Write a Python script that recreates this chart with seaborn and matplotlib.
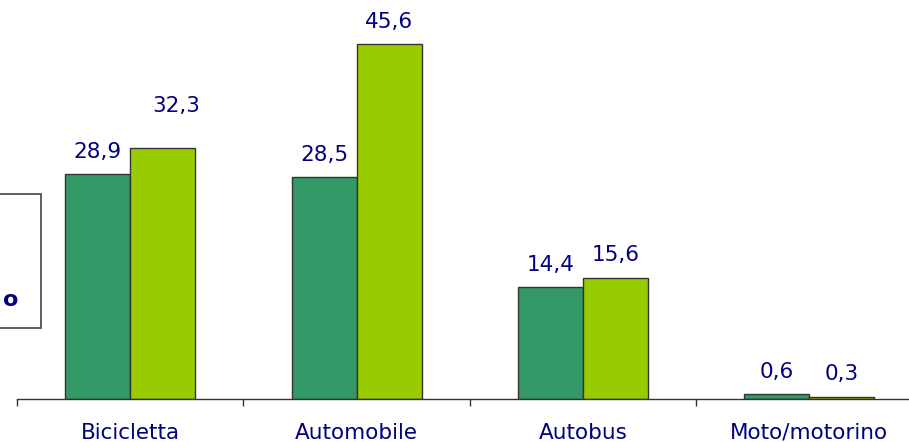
import matplotlib
matplotlib.use("Agg")
import matplotlib.pyplot as plt
import pandas as pd
import seaborn as sns
from matplotlib.patches import Rectangle

categories = ["Bicicletta", "Automobile", "Autobus", "Moto/motorino"]
series_names = ["Serie 1", "Serie 2"]
values_first = [28.9, 28.5, 14.4, 0.6]
values_second = [32.3, 45.6, 15.6, 0.3]

DARK_GREEN = "#339966"
LIME = "#99CC00"
NAVY = "#000080"

df = pd.DataFrame({
    "categoria": categories * 2,
    "serie": [series_names[0]] * len(categories) + [series_names[1]] * len(categories),
    "valore": values_first + values_second,
})

sns.set_style("white")
plt.rcParams["font.family"] = ["DejaVu Sans"]

fig = plt.figure(figsize=(9.09, 4.42), dpi=100)
ax = fig.add_axes([17 / 909, 43 / 442, 1 - 17 / 909, 399 / 442])

sns.barplot(
    data=df, x="categoria", y="valore", hue="serie",
    palette=[DARK_GREEN, LIME], saturation=1, width=0.574, gap=0,
    edgecolor="#333333", linewidth=1, legend=False, ax=ax,
)

ax.set_xlim(-0.5, 3.44)
ax.set_ylim(0, 51.25)
ax.set_xlabel("")
ax.set_ylabel("")
ax.set_yticks([])
for side in ["left", "right", "top"]:
    ax.spines[side].set_visible(False)
ax.spines["bottom"].set_color("#333333")
ax.spines["bottom"].set_linewidth(1)

ax.set_xticks(range(len(categories)))
ax.set_xticklabels(categories, color=NAVY, fontsize=15.5)
ax.tick_params(axis="x", which="major", bottom=True, length=0, pad=17)
ax.set_xticks([i - 0.5 for i in range(len(categories))], minor=True)
ax.tick_params(axis="x", which="minor", bottom=True, length=5, width=1,
               direction="out", color="#333333")

# value labels above the bars
for container in ax.containers:
    for bar in container:
        h = bar.get_height()
        x = bar.get_x() + bar.get_width() / 2
        dx, dy = 0, 16
        if abs(h - 32.3) < 1e-6:
            dx, dy = 10, 30
        ax.annotate(
            f"{h:.1f}".replace(".", ","), (x, h),
            xytext=(dx, dy), textcoords="offset points",
            ha="center", va="center", color=NAVY, fontsize=15.5,
        )

# legend box, cut off at the left edge
fig.patches.append(Rectangle(
    (-0.05, (442 - 328) / 442), 0.05 + 41 / 909, 134 / 442,
    transform=fig.transFigure, facecolor="white",
    edgecolor="#444444", linewidth=1.2,
))
fig.text(11 / 909, (442 - 300) / 442, "o", color=NAVY, fontsize=16,
         fontweight="bold", ha="center", va="center")

fig.savefig("out.png", dpi=100)
